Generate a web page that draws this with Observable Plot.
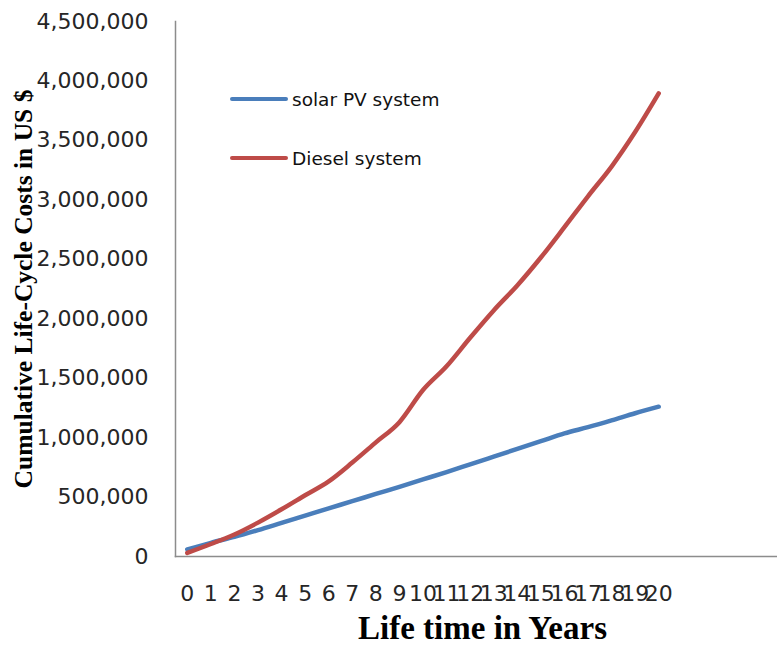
<!DOCTYPE html>
<html>
<head>
<meta charset="utf-8">
<script src="https://cdn.jsdelivr.net/npm/d3@7"></script>
<script src="https://cdn.jsdelivr.net/npm/@observablehq/plot@0.6"></script>
<style>
  html, body { margin: 0; padding: 0; background: #fff; }
  #wrap { position: relative; width: 777px; height: 656px; }
  #legend { position: absolute; left: 230px; top: 87px; font-family: "DejaVu Sans", sans-serif; font-size: 18.5px; color: #111; }
  .item { display: flex; align-items: center; height: 24px; }
  .item + .item { margin-top: 35px; }
  .swatch { width: 58px; height: 4.5px; border-radius: 2px; margin-right: 4px; }
</style>
</head>
<body>
<div id="wrap"><div id="legend"></div></div>
<script>
// Cumulative life-cycle costs (US $) over a 20-year system lifetime
const years = [0, 1, 2, 3, 4, 5, 6, 7, 8, 9, 10, 11, 12, 13, 14, 15, 16, 17, 18, 19, 20];
const solarPV = [60000, 115000, 165000, 222000, 283000, 344000, 405000, 465000, 526000, 586000, 648000,
                 710000, 775000, 840000, 905000, 970000, 1035000, 1088000, 1145000, 1205000, 1260000];
const diesel = [30000, 105000, 185000, 285000, 397000, 515000, 632000, 790000, 960000, 1130000, 1400000,
                1600000, 1840000, 2070000, 2280000, 2515000, 2770000, 3030000, 3280000, 3570000, 3895000];
const seriesNames = ["solar PV system", "Diesel system"];
const seriesColors = ["#4A7EBB", "#BE4B48"];
const yTicks = [0, 500000, 1000000, 1500000, 2000000, 2500000, 3000000, 3500000, 4000000, 4500000];
const yTitle = "Cumulative Life-Cycle Costs in US $";
const xTitle = "Life time in Years";

const rows = years.flatMap((year, i) => [
  {year, cost: solarPV[i], system: seriesNames[0]},
  {year, cost: diesel[i], system: seriesNames[1]}
]);

const chart = Plot.plot({
  width: 777,
  height: 656,
  marginLeft: 175,
  marginRight: 0,
  marginTop: 21,
  marginBottom: 100,
  style: {fontFamily: "DejaVu Sans, sans-serif", fontSize: "22px", color: "#262626", background: "transparent"},
  x: {domain: [-0.5, 25.04], ticks: years, tickFormat: d => String(d), tickSize: 0, tickPadding: 29, label: null},
  y: {domain: [0, 4500000], ticks: yTicks, tickFormat: d3.format(","), tickSize: 0, tickPadding: 27, label: null},
  color: {domain: seriesNames, range: seriesColors},
  marks: [
    Plot.frame({anchor: "left", stroke: "#8c8c8c", strokeWidth: 1.5}),
    Plot.frame({anchor: "bottom", stroke: "#8c8c8c", strokeWidth: 1.5}),
    Plot.line(rows, {x: "year", y: "cost", z: "system", stroke: "system", strokeWidth: 4.5,
      curve: "monotone-x", strokeLinecap: "round", strokeLinejoin: "round"}),
    Plot.text([yTitle], {text: d => d, frameAnchor: "left", textAnchor: "middle", dx: -152, rotate: -90,
      fontFamily: "Liberation Serif, serif", fontWeight: "bold", fontSize: 25.5, fill: "#000"}),
    Plot.text([xTitle], {text: d => d, frameAnchor: "bottom", textAnchor: "middle", dx: 6, dy: 82,
      fontFamily: "Liberation Serif, serif", fontWeight: "bold", fontSize: 33, fill: "#000"})
  ]
});

const wrap = document.getElementById("wrap");
wrap.insertBefore(chart, wrap.firstChild);

const legend = d3.select("#legend");
seriesNames.forEach((name, i) => {
  const item = legend.append("div").attr("class", "item");
  item.append("div").attr("class", "swatch").style("background", seriesColors[i]);
  item.append("span").text(name);
});
</script>
</body>
</html>
